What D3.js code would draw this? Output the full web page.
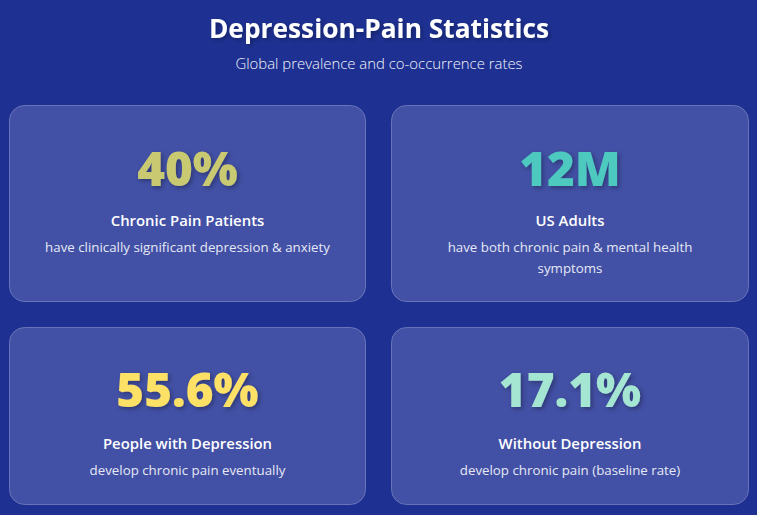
<!DOCTYPE html>
<html>
<head>
<meta charset="utf-8">
<script src="https://cdn.jsdelivr.net/npm/d3@7"></script>
<style>
  html, body { margin: 0; padding: 0; background: #1e3192; overflow: hidden; }
  text { font-family: "Open Sans", "Noto Sans", sans-serif; text-anchor: middle; }
</style>
</head>
<body>
<svg id="chart"></svg>
<script>
//Chart text and values
const chartTitle = "Depression-Pain Statistics";
const chartSubtitle = "Global prevalence and co-occurrence rates";
const statValues = ["40%", "12M", "55.6%", "17.1%"];
const statLabels = ["Chronic Pain Patients", "US Adults", "People with Depression", "Without Depression"];
const statNotes = [
  ["have clinically significant depression & anxiety"],
  ["have both chronic pain & mental health", "symptoms"],
  ["develop chronic pain eventually"],
  ["develop chronic pain (baseline rate)"]
];
const statColors = ["#c9c972", "#4ec9c0", "#fde166", "#a5e6d3"];

//Width and height
const w = 757;
const h = 515;

const svg = d3.select("#chart").attr("width", w).attr("height", h);

const defs = svg.append("defs");
const shadow = defs.append("filter").attr("id", "shadow")
  .attr("x", "-20%").attr("y", "-20%").attr("width", "140%").attr("height", "150%");
shadow.append("feDropShadow")
  .attr("dx", 2).attr("dy", 2).attr("stdDeviation", 2)
  .attr("flood-color", "#000").attr("flood-opacity", 0.3);

svg.append("rect").attr("width", w).attr("height", h).attr("fill", "#1e3192");

svg.append("text").attr("x", 379).attr("y", 38)
  .attr("font-size", 26.3).attr("font-weight", 700).attr("fill", "#fff")
  .attr("filter", "url(#shadow)")
  .text(chartTitle);
svg.append("text").attr("x", 379).attr("y", 69)
  .attr("font-size", 14.9).attr("font-weight", 300).attr("fill", "#f4f5fb")
  .text(chartSubtitle);

//Card slots
const col = d3.scaleOrdinal().domain([0, 1]).range([9, 391]);
const row = d3.scaleOrdinal().domain([0, 1]).range([105, 327]);
const cardW = [357, 358];
const cardH = [197, 178];

const cards = svg.selectAll("g.card")
  .data(statValues)
  .enter()
  .append("g")
  .attr("class", "card")
  .attr("transform", (d, i) => `translate(${col(i % 2)},${row(Math.floor(i / 2))})`);

cards.append("rect")
  .attr("x", 0.5).attr("y", 0.5)
  .attr("width", (d, i) => cardW[i % 2] - 1)
  .attr("height", (d, i) => cardH[Math.floor(i / 2)] - 1)
  .attr("rx", 15)
  .attr("fill", "#4250a5")
  .attr("stroke", "#6974b8");

cards.append("text")
  .attr("x", (d, i) => cardW[i % 2] / 2)
  .attr("y", (d, i) => i < 2 ? 81 : 80)
  .attr("font-size", 47.5).attr("font-weight", 800)
  .attr("fill", (d, i) => statColors[i])
  .attr("filter", "url(#shadow)")
  .text(d => d);

cards.append("text")
  .attr("x", (d, i) => cardW[i % 2] / 2)
  .attr("y", (d, i) => i < 2 ? 121 : 122)
  .attr("font-size", 14.9).attr("font-weight", 600).attr("fill", "#fff")
  .text((d, i) => statLabels[i]);

cards.each(function(d, i) {
  d3.select(this).selectAll("text.note")
    .data(statNotes[i])
    .enter()
    .append("text")
    .attr("class", "note")
    .attr("x", cardW[i % 2] / 2)
    .attr("y", (n, j) => (i < 2 ? 147 : 148) + j * 21)
    .attr("font-size", 13.3).attr("fill", "#e6e9f5")
    .text(n => n);
});
</script>
</body>
</html>
